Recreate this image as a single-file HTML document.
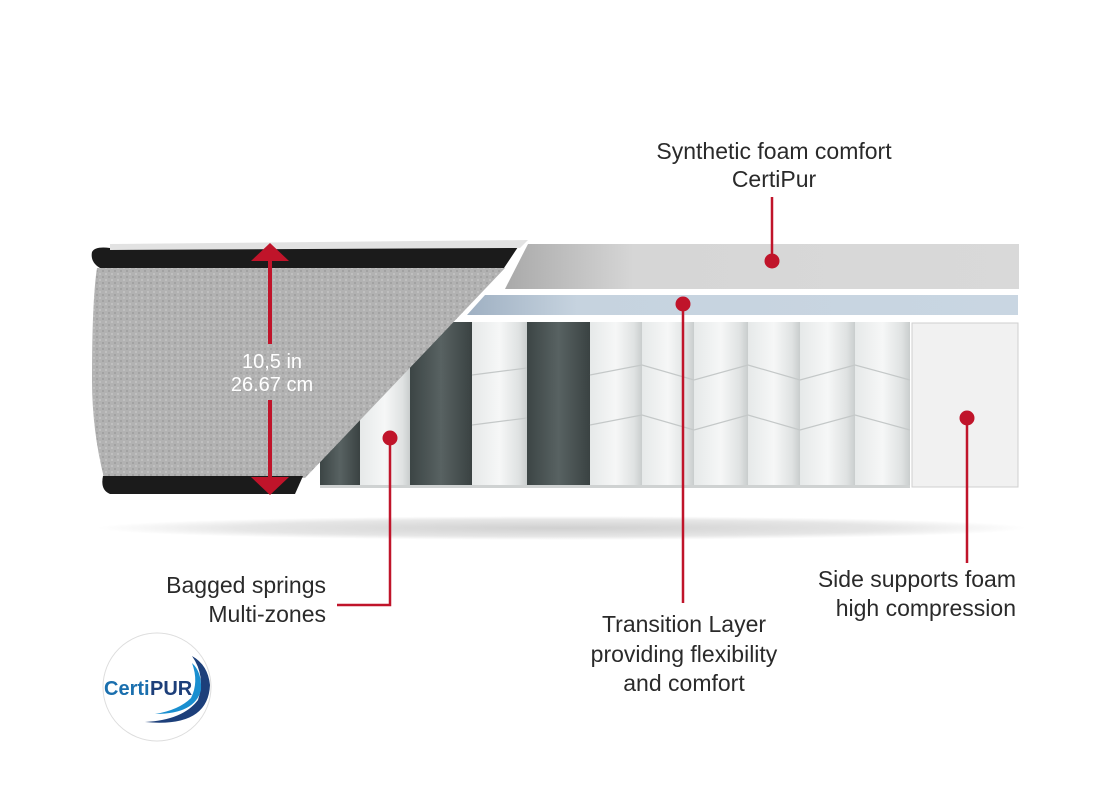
<!DOCTYPE html>
<html><head><meta charset="utf-8"><style>
html,body{margin:0;padding:0;background:#fff;}
svg{display:block;}
text{font-family:"Liberation Sans",Arial,sans-serif;}
</style></head><body>
<svg width="1120" height="800" viewBox="0 0 1120 800" xmlns="http://www.w3.org/2000/svg">
<defs>
<radialGradient id="sh" cx="50%" cy="50%" r="50%">
<stop offset="0" stop-color="#d0d0d0"/><stop offset="0.7" stop-color="#e6e6e6"/><stop offset="1" stop-color="#fff"/>
</radialGradient>
<linearGradient id="top" x1="0" x2="1"><stop offset="0" stop-color="#a9a9a9"/><stop offset="0.25" stop-color="#d6d6d6"/><stop offset="1" stop-color="#d9d9d9"/></linearGradient>
<linearGradient id="blue" x1="0" x2="1"><stop offset="0" stop-color="#9fb0c2"/><stop offset="0.2" stop-color="#c6d3df"/><stop offset="1" stop-color="#c9d6e2"/></linearGradient>
<linearGradient id="wcol" x1="0" x2="1"><stop offset="0" stop-color="#e6e9e9"/><stop offset="0.5" stop-color="#f6f7f7"/><stop offset="0.85" stop-color="#dfe2e2"/><stop offset="1" stop-color="#c9cdcd"/></linearGradient>
<linearGradient id="dcol" x1="0" x2="1"><stop offset="0" stop-color="#3c4545"/><stop offset="0.5" stop-color="#586262"/><stop offset="1" stop-color="#3a4242"/></linearGradient>
<pattern id="quilt" width="6" height="6" patternUnits="userSpaceOnUse">
<rect width="6" height="6" fill="#b2b2b2"/><rect x="0" y="0" width="2" height="2" fill="#a2a2a2"/><rect x="3" y="3" width="2" height="2" fill="#c0c0c0"/>
</pattern>
</defs>
<ellipse cx="562" cy="528" rx="465" ry="12" fill="url(#sh)"/>
<polygon points="528,244 1019,244 1019,289 505,289" fill="url(#top)"/>
<polygon points="485,295 1018,295 1018,315 467,315" fill="url(#blue)"/>
<rect x="320" y="322" width="590" height="165" fill="#e9ecec"/>
<g>
<rect x="320" y="322" width="40" height="165" fill="url(#dcol)"/>
<rect x="360" y="322" width="50" height="165" fill="url(#wcol)"/>
<rect x="410" y="322" width="62" height="165" fill="url(#dcol)"/>
<rect x="472" y="322" width="55" height="165" fill="url(#wcol)"/>
<rect x="527" y="322" width="63" height="165" fill="url(#dcol)"/>
<rect x="590" y="322" width="52" height="165" fill="url(#wcol)"/>
<rect x="642" y="322" width="52" height="165" fill="url(#wcol)"/>
<rect x="694" y="322" width="54" height="165" fill="url(#wcol)"/>
<rect x="748" y="322" width="52" height="165" fill="url(#wcol)"/>
<rect x="800" y="322" width="55" height="165" fill="url(#wcol)"/>
<rect x="855" y="322" width="55" height="165" fill="url(#wcol)"/>
</g>
<g stroke="#c4c8c8" stroke-width="1.2" fill="none">
<path d="M590,375 L642,365 L694,380 L748,365 L800,380 L855,365 L910,380"/>
<path d="M590,425 L642,415 L694,430 L748,415 L800,430 L855,415 L910,430"/>
<path d="M472,375 L527,368 M472,425 L527,418"/>
</g>
<rect x="320" y="485" width="590" height="3" fill="#cfd2d2"/>
<rect x="912" y="323" width="106" height="164" fill="#f1f1f1" stroke="#cfcfcf"/>
<path d="M92,252 Q95,246 110,248 L520,244 L504,268 L100,268 Q90,262 92,252 Z" fill="#1b1b1b"/>
<path d="M110,244 L528,240 L520,248 L110,250 Z" fill="#e2e2e2"/>
<path d="M97,268 L505,268 L305,478 L104,478 Q92,430 92,380 Q92,300 97,268 Z" fill="url(#quilt)"/>
<path d="M103,476 L303,476 L295,494 L110,494 Q100,490 103,476 Z" fill="#1b1b1b"/>
<g fill="#c0142a">
<polygon points="270,243 251,261 289,261"/>
<rect x="268" y="258" width="4" height="86"/>
<rect x="268" y="400" width="4" height="80"/>
<polygon points="270,495 251,477 289,477"/>
</g>
<text x="272" y="368" font-size="20" fill="#fff" text-anchor="middle">10,5 in</text>
<text x="272" y="391" font-size="20" fill="#fff" text-anchor="middle">26.67 cm</text>
<g stroke="#c0142a" stroke-width="2.5" fill="none">
<path d="M772,197 V261"/>
<path d="M683,303 V603"/>
<path d="M390,438 V605 H337"/>
<path d="M967,418 V563"/>
</g>
<g fill="#c0142a">
<circle cx="772" cy="261" r="7.5"/>
<circle cx="683" cy="304" r="7.5"/>
<circle cx="390" cy="438" r="7.5"/>
<circle cx="967" cy="418" r="7.5"/>
</g>
<g font-size="23" fill="#2a2a2a">
<text x="774" y="159" text-anchor="middle">Synthetic foam comfort</text>
<text x="774" y="187" text-anchor="middle">CertiPur</text>
<text x="326" y="593" text-anchor="end">Bagged springs</text>
<text x="326" y="622" text-anchor="end">Multi-zones</text>
<text x="684" y="632" text-anchor="middle">Transition Layer</text>
<text x="684" y="662" text-anchor="middle">providing flexibility</text>
<text x="684" y="691" text-anchor="middle">and comfort</text>
<text x="1016" y="587" text-anchor="end">Side supports foam</text>
<text x="1016" y="616" text-anchor="end">high compression</text>
</g>
<circle cx="157" cy="687" r="54" fill="#fff" stroke="#ddd"/>
<path d="M145,722 Q208,728 210,685 Q208,665 192,656 Q206,676 198,700 Q183,720 145,722 Z" fill="#1d3f7a"/>
<path d="M155,714 Q195,714 201,690 Q202,672 192,663 Q199,682 191,698 Q179,710 155,714 Z" fill="#1a8fd0"/>
<text x="104" y="695" font-size="20" font-weight="bold" fill="#1a6fae">Certi</text>
<text x="150" y="695" font-size="20" font-weight="bold" fill="#1d3f7a">PUR</text>
</svg>
</body></html>
